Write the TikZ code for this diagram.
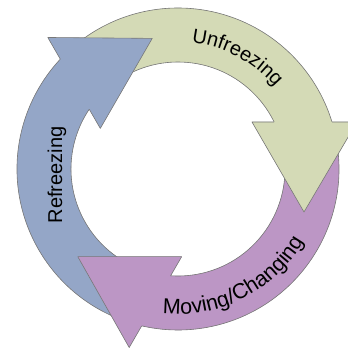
\documentclass[tikz,border=0pt]{standalone}
\usepackage{fontspec}
\setmainfont{Liberation Sans}
\usetikzlibrary{decorations.text}
\definecolor{cgreen}{RGB}{212,218,182}
\definecolor{cblue}{RGB}{148,166,199}
\definecolor{cpurple}{RGB}{188,150,197}
\definecolor{cedge}{RGB}{120,120,120}
\newcommand\lblfont{\fontsize{20}{24}\selectfont}
\newcommand\lblfontb{\fontsize{21.5}{25}\selectfont}
\newcommand\ringshapes{%
  \foreach \ang in {0,-120,120}{%
    \begin{scope}[shift={(c)}, rotate=\ang]
      \fill (130:107) arc[start angle=130,end angle=12,radius=107]
         -- (12:161) arc[start angle=12,end angle=130,radius=161] -- cycle;
      \fill (74,47) -- (126,-43) -- (179,47) -- cycle;
    \end{scope}
  }%
}
\tikzset{
  edge/.style={draw=cedge, line width=0.6pt, line join=round},
  shadowlayer/.style={transparency group, opacity=0.06, shift={#1}},
}
\begin{document}
\begin{tikzpicture}[x=1pt,y=1pt]
\useasboundingbox (0,0) rectangle (348,354);
\coordinate (c) at (178,185);
% soft shadow
\foreach \dx/\dy in {1/-1.5,2/-3,3/-4.5,4/-6}{
  \begin{scope}[shadowlayer={(\dx,\dy)}]
    \ringshapes
  \end{scope}
}
% shafts
\foreach \ang/\col in {0/cgreen,-120/cpurple,120/cblue}{
  \begin{scope}[shift={(c)}, rotate=\ang]
    \fill[\col] (130:107) arc[start angle=130,end angle=12,radius=107]
       -- (12:161) arc[start angle=12,end angle=130,radius=161] -- cycle;
    \draw[edge] (130:107) arc[start angle=130,end angle=12,radius=107];
    \draw[edge] (130:161) arc[start angle=130,end angle=12,radius=161];
  \end{scope}
}
% heads
\foreach \ang/\col in {0/cgreen,-120/cpurple,120/cblue}{
  \begin{scope}[shift={(c)}, rotate=\ang]
    \fill[\col] (74,47) -- (126,-43) -- (179,47) -- cycle;
    \draw[edge] (96.1,47) -- (74,47) -- (126,-43) -- (179,47) -- (154,47);
  \end{scope}
}
% labels
\path[decorate, decoration={text along path, text={|\lblfont|Unfreezing}, text align=center}]
  (c) ++(100:127) arc[start angle=100,end angle=24,radius=127];
\path[decorate, decoration={text along path, text={|\lblfontb|Moving/Changing}, text align=center}]
  (c) ++(-112:145) arc[start angle=-112,end angle=-14,radius=145];
\node[font=\lblfont, rotate=90, anchor=base, inner sep=0pt] (refr) at (62,179) {Refreezing};
\end{tikzpicture}
\end{document}
